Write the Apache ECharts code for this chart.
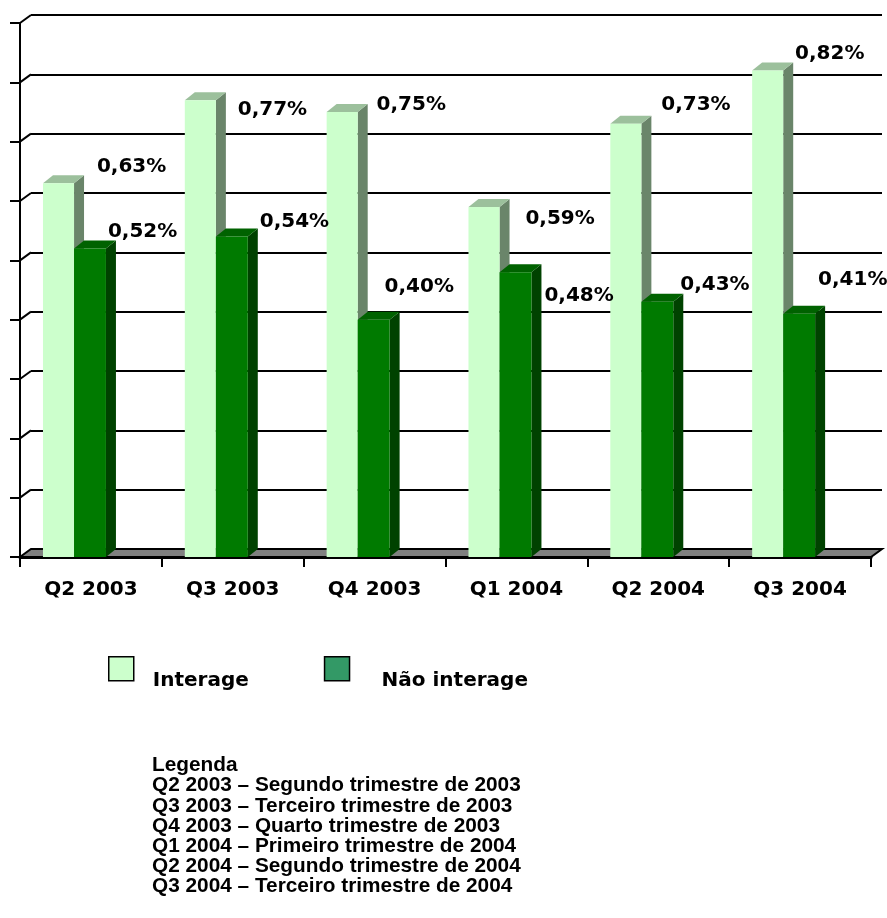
<!DOCTYPE html>
<html><head><meta charset="utf-8">
<script src="https://cdn.jsdelivr.net/npm/echarts@6/dist/echarts.min.js"></script>
<style>html,body{margin:0;padding:0;background:#fff}#c{width:887px;height:918px}</style>
</head><body><div id="c"></div>
<script>
const categories = ['Q2 2003', 'Q3 2003', 'Q4 2003', 'Q1 2004', 'Q2 2004', 'Q3 2004'];
const interage = [0.63, 0.77, 0.75, 0.59, 0.73, 0.82];
const naoInterage = [0.52, 0.54, 0.40, 0.48, 0.43, 0.41];
const seriesNames = ['Interage', 'Não interage'];
const yTicks = [0, 0.1, 0.2, 0.3, 0.4, 0.5, 0.6, 0.7, 0.8, 0.9];
const legendNotes = [
  'Legenda',
  'Q2 2003 – Segundo trimestre de 2003',
  'Q3 2003 – Terceiro trimestre de 2003',
  'Q4 2003 – Quarto trimestre de 2003',
  'Q1 2004 – Primeiro trimestre de 2004',
  'Q2 2004 – Segundo trimestre de 2004',
  'Q3 2004 – Terceiro trimestre de 2004'
];

// label placement (style only): [dx from category centre, dy from bar top]
const lightLabelShift = [[6, -8], [5, 18], [2, 1], [9, 20], [3, -11], [-5, -9]];
const darkLabelShift = [[17, -9], [27, -7], [10, -25], [28, 32], [22, -9], [18, -26]];

const CHART_FONT = 'DejaVu Sans';
const fmt = v => v.toFixed(2).replace('.', ',') + '%';

function barRenderer(kind) {
  return function (params, api) {
    const i = api.value(0), v = api.value(1);
    const base = api.coord([i, 0]);
    const top = api.coord([i, v]);
    const bw = api.size([1, 0])[0];
    const cx = base[0];
    let x0, x1;
    if (kind === 0) { x0 = cx - 0.338 * bw; x1 = cx - 0.119 * bw; }
    else { x0 = cx - 0.119 * bw; x1 = cx + 0.106 * bw; }
    const yT = top[1], yB = base[1];
    const dx = 10, dy = 8;
    const col = kind === 0
      ? { front: '#CCFFCC', top: '#9CC09C', side: '#6A856A' }
      : { front: '#007A00', top: '#006200', side: '#004200' };
    const shift = (kind === 0 ? lightLabelShift : darkLabelShift)[i];
    return {
      type: 'group',
      children: [
        { type: 'polygon', shape: { points: [[x1, yB], [x1 + dx, yB - dy], [x1 + dx, yT - dy], [x1, yT]] }, style: { fill: col.side } },
        { type: 'polygon', shape: { points: [[x0, yT], [x1, yT], [x1 + dx, yT - dy], [x0 + dx, yT - dy]] }, style: { fill: col.top } },
        { type: 'rect', shape: { x: x0, y: yT, width: x1 - x0, height: yB - yT }, style: { fill: col.front } },
        {
          type: 'text', x: cx + shift[0], y: yT - dy + shift[1], z2: 10,
          style: { text: fmt(v), fill: '#000', fontFamily: CHART_FONT, fontWeight: 'bold', fontSize: 20, align: 'left', verticalAlign: 'middle' }
        }
      ]
    };
  };
}

function frameRenderer(params, api) {
  const v = api.value(1);
  const cs = params.coordSys;
  const y = api.coord([0, v])[1];
  const dx = 11, dy = 8;
  if (v === 0) {
    return {
      type: 'polygon',
      shape: { points: [[cs.x, y], [cs.x + cs.width, y], [cs.x + cs.width + dx, y - dy], [cs.x + dx, y - dy]] },
      style: { fill: '#808080', stroke: '#000', lineWidth: 2 }
    };
  }
  return {
    type: 'line',
    shape: { x1: cs.x, y1: y, x2: cs.x + dx, y2: y - dy },
    style: { stroke: '#000', lineWidth: 2 }
  };
}

const chart = echarts.init(document.getElementById('c'), null, { renderer: 'canvas' });
chart.setOption({
  backgroundColor: '#fff',
  animation: false,
  grid: [
    { left: 31, right: 5, top: 15, bottom: 369 },
    { left: 20, right: 16, top: 23, bottom: 361 }
  ],
  xAxis: [
    { gridIndex: 0, type: 'category', data: categories, show: false },
    {
      gridIndex: 1, type: 'category', data: categories,
      axisLine: { show: true, lineStyle: { color: '#000', width: 3 } },
      axisTick: { show: true, length: 10, interval: 0, lineStyle: { color: '#000', width: 2 } },
      axisLabel: { margin: 23, color: '#000', fontFamily: CHART_FONT, fontWeight: 'bold', fontSize: 20, interval: 0 }
    }
  ],
  yAxis: [
    {
      gridIndex: 0, type: 'value', min: 0, max: 0.9, interval: 0.1,
      axisLine: { show: false }, axisTick: { show: false }, axisLabel: { show: false },
      splitLine: { show: true, lineStyle: { color: '#000', width: 2 } }
    },
    {
      gridIndex: 1, type: 'value', min: 0, max: 0.9, interval: 0.1,
      axisLine: { show: true, lineStyle: { color: '#000', width: 2 } },
      axisTick: { show: true, inside: false, length: 10, lineStyle: { color: '#000', width: 2 } },
      axisLabel: { show: false },
      splitLine: { show: false }
    }
  ],
  legend: {
    left: 108, top: 656, padding: 0, itemWidth: 25, itemHeight: 48, itemGap: 75,
    icon: 'path://M0,0L25,0L25,24L0,24Z M0,48L0,48',
    itemStyle: { borderColor: '#000', borderWidth: 1.5 },
    textStyle: { fontFamily: CHART_FONT, fontWeight: 'bold', fontSize: 20, color: '#000', padding: [0, 0, 0, 14] },
    data: [
      { name: seriesNames[0] },
      { name: seriesNames[1], textStyle: { padding: [0, 0, 0, 27] } }
    ]
  },
  graphic: [{
    type: 'text', left: 152, top: 755,
    style: { text: legendNotes.join('\n'), fill: '#000', fontFamily: 'Liberation Sans', fontWeight: 'bold', fontSize: 20.8, lineHeight: 20.2 }
  }],
  series: [
    {
      type: 'custom', name: 'frame', xAxisIndex: 1, yAxisIndex: 1, z: 1, silent: true,
      data: yTicks.map(v => [0, v]), renderItem: frameRenderer
    },
    {
      type: 'custom', name: seriesNames[0], xAxisIndex: 1, yAxisIndex: 1, z: 2,
      itemStyle: { color: '#CCFFCC' },
      data: interage.map((v, i) => [i, v]), renderItem: barRenderer(0)
    },
    {
      type: 'custom', name: seriesNames[1], xAxisIndex: 1, yAxisIndex: 1, z: 2,
      itemStyle: { color: '#339966' },
      data: naoInterage.map((v, i) => [i, v]), renderItem: barRenderer(1)
    }
  ]
});
</script>
</body></html>
